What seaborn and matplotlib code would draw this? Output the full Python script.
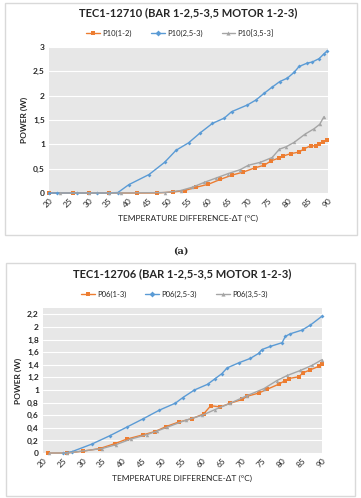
import matplotlib
matplotlib.use("Agg")
import matplotlib.pyplot as plt
import seaborn as sns
import pandas as pd
from matplotlib.patches import Rectangle
from matplotlib.lines import Line2D

sns.set_style("white")
plt.rcParams['font.family'] = ['Lato', 'DejaVu Sans']

# --- (a) TEC1-12710 ---
p10_12_x = [20, 26, 30, 35, 42, 47, 51, 54, 57, 60, 63, 66, 68.75, 71.75, 74, 75.7, 77.75, 78.75, 80.7, 82.75, 84, 85.7, 86.9, 87.75, 88.8, 89.8]
p10_12_y = [0, 0, 0, 0, 0, 0, 0.02, 0.05, 0.12, 0.18, 0.28, 0.37, 0.43, 0.52, 0.57, 0.66, 0.72, 0.76, 0.81, 0.84, 0.91, 0.97, 0.97, 1.01, 1.05, 1.09]
p10_253_x = [20, 22, 27, 32, 35, 37.3, 40, 45.1, 49, 51.9, 55, 58, 61, 64, 65.8, 69.8, 71.9, 74, 75.9, 77.9, 79.8, 81.5, 82.75, 84.8, 86, 87.75, 89, 89.8]
p10_253_y = [0, 0, 0, 0, 0, 0.01, 0.17, 0.38, 0.63, 0.88, 1.03, 1.24, 1.43, 1.54, 1.67, 1.81, 1.91, 2.05, 2.17, 2.29, 2.36, 2.48, 2.6, 2.67, 2.69, 2.76, 2.86, 2.92]
p10_353_x = [22.75, 30, 35, 38, 49.2, 53, 56, 59, 62, 65, 68, 70, 73, 76, 77.8, 79.5, 81.5, 84.25, 86.5, 87.9, 89]
p10_353_y = [0, 0, 0, 0, 0.01, 0.05, 0.12, 0.22, 0.31, 0.4, 0.48, 0.57, 0.63, 0.73, 0.9, 0.95, 1.04, 1.21, 1.32, 1.41, 1.57]

# --- (b) TEC1-12706 ---
p06_13_x = [21.2, 26, 30.1, 34.2, 38.1, 41, 45.2, 48.1, 50.9, 54, 57.4, 60.3, 62.1, 64.5, 67, 70, 71.2, 74.1, 76.2, 79.1, 80.8, 81.6, 84.2, 85.2, 87.1, 89.2, 90]
p06_13_y = [0, 0, 0.03, 0.07, 0.15, 0.22, 0.29, 0.34, 0.42, 0.49, 0.545, 0.62, 0.75, 0.73, 0.79, 0.85, 0.9, 0.95, 1.01, 1.09, 1.15, 1.18, 1.21, 1.27, 1.32, 1.375, 1.41]
p06_253_x = [25.1, 27.2, 32.2, 36.8, 41, 45.2, 49.2, 53.2, 55.1, 58, 61.3, 63.2, 64.9, 66.2, 69.1, 72, 74.1, 74.9, 77, 80, 80.8, 82, 85, 87.1, 90]
p06_253_y = [0, 0.02, 0.14, 0.275, 0.41, 0.545, 0.68, 0.79, 0.88, 1.0, 1.09, 1.18, 1.26, 1.35, 1.43, 1.5, 1.58, 1.64, 1.69, 1.75, 1.85, 1.89, 1.95, 2.03, 2.17]
p06_353_x = [21.6, 26, 34.8, 38.2, 42, 46, 48.7, 51.2, 55.8, 60, 63.2, 67, 71.2, 75.4, 78.7, 81.3, 84.6, 87.5, 90]
p06_353_y = [0, 0, 0.07, 0.13, 0.22, 0.29, 0.35, 0.41, 0.52, 0.6, 0.69, 0.79, 0.91, 1.02, 1.15, 1.23, 1.31, 1.39, 1.48]

x_ticks = list(range(20, 91, 5))
y_ticks_a = [0, 0.5, 1, 1.5, 2, 2.5, 3]
y_ticks_b = [0, 0.2, 0.4, 0.6, 0.8, 1, 1.2, 1.4, 1.6, 1.8, 2, 2.2]

ORANGE = "#ED7D31"
BLUE = "#5B9BD5"
GRAY = "#A5A5A5"
W, H = 361, 498

fig = plt.figure(figsize=(W / 100, H / 100), dpi=100)

# panel frames
for (x0, y0, x1, y1) in [(5, 3, 357, 235), (6, 263, 355, 496)]:
    fig.patches.append(Rectangle((x0 / W, 1 - y1 / H), (x1 - x0) / W, (y1 - y0) / H,
                                 transform=fig.transFigure, fill=False,
                                 edgecolor="#d9d9d9", lw=1))

fig.text(181 / W, 1 - 251 / H, "(a)", ha="center", va="center",
         fontsize=7, family="DejaVu Serif", fontweight="bold")


def comma(v):
    return ("%g" % v).replace(".", ",")


def panel(rect, series, ymax, yticks, title):
    ax = fig.add_axes(rect)
    ax.set_facecolor("#e7e7e7")
    for name, xs, ys, color, mk, ms in series:
        df = pd.DataFrame({"x": xs, "y": ys})
        sns.lineplot(data=df, x="x", y="y", ax=ax, sort=False, color=color,
                     marker=mk, markersize=ms, markeredgewidth=0, lw=1.0,
                     clip_on=False, zorder=3)
    ax.set_xlim(20, 90)
    ax.set_ylim(0, ymax)
    ax.set_xticks(x_ticks)
    ax.set_xticklabels([str(t) for t in x_ticks], rotation=45, fontsize=6,
                       ha="right", rotation_mode="anchor")
    ax.set_yticks(yticks)
    ax.set_yticklabels([comma(t) for t in yticks], fontsize=6, fontweight="bold")
    ax.grid(axis="y", color="white", lw=0.8)
    ax.set_axisbelow(True)
    ax.tick_params(length=0, pad=3)
    for s in ax.spines.values():
        s.set_visible(False)
    ax.set_xlabel("TEMPERATURE DIFFERENCE-\u0394T (\u00b0C)", fontsize=6, labelpad=4)
    ax.set_ylabel("POWER (W)", fontsize=6, fontweight="bold", labelpad=4)
    handles = [Line2D([], [], color=c, marker=m, markersize=3, markeredgewidth=0, lw=1)
               for _, _, _, c, m, _ in series]
    ax.legend(handles, [s[0] for s in series], loc="lower center",
              bbox_to_anchor=(0.47, 1.02), ncol=3, frameon=False, fontsize=5.5,
              handlelength=1.8, columnspacing=2.5, handletextpad=0.3)
    ax.set_title(title, fontsize=8, fontweight="bold", pad=22)
    return ax


panel([49 / W, 1 - 193 / H, 279 / W, 146 / H],
      [("P10(1-2)", p10_12_x, p10_12_y, ORANGE, "s", 3),
       ("P10(2,5-3)", p10_253_x, p10_253_y, BLUE, "D", 2),
       ("P10[3,5-3]", p10_353_x, p10_353_y, GRAY, "^", 2.5)],
      3, y_ticks_a, "TEC1-12710 (BAR 1-2,5-3,5 MOTOR 1-2-3)")

panel([43 / W, 1 - 453 / H, 279 / W, 145 / H],
      [("P06(1-3)", p06_13_x, p06_13_y, ORANGE, "s", 3),
       ("P06(2,5-3)", p06_253_x, p06_253_y, BLUE, "D", 2),
       ("P06(3,5-3)", p06_353_x, p06_353_y, GRAY, "^", 2.5)],
      2.3, y_ticks_b, "TEC1-12706 (BAR 1-2,5-3,5 MOTOR 1-2-3)")

fig.savefig("out.png", dpi=100)
